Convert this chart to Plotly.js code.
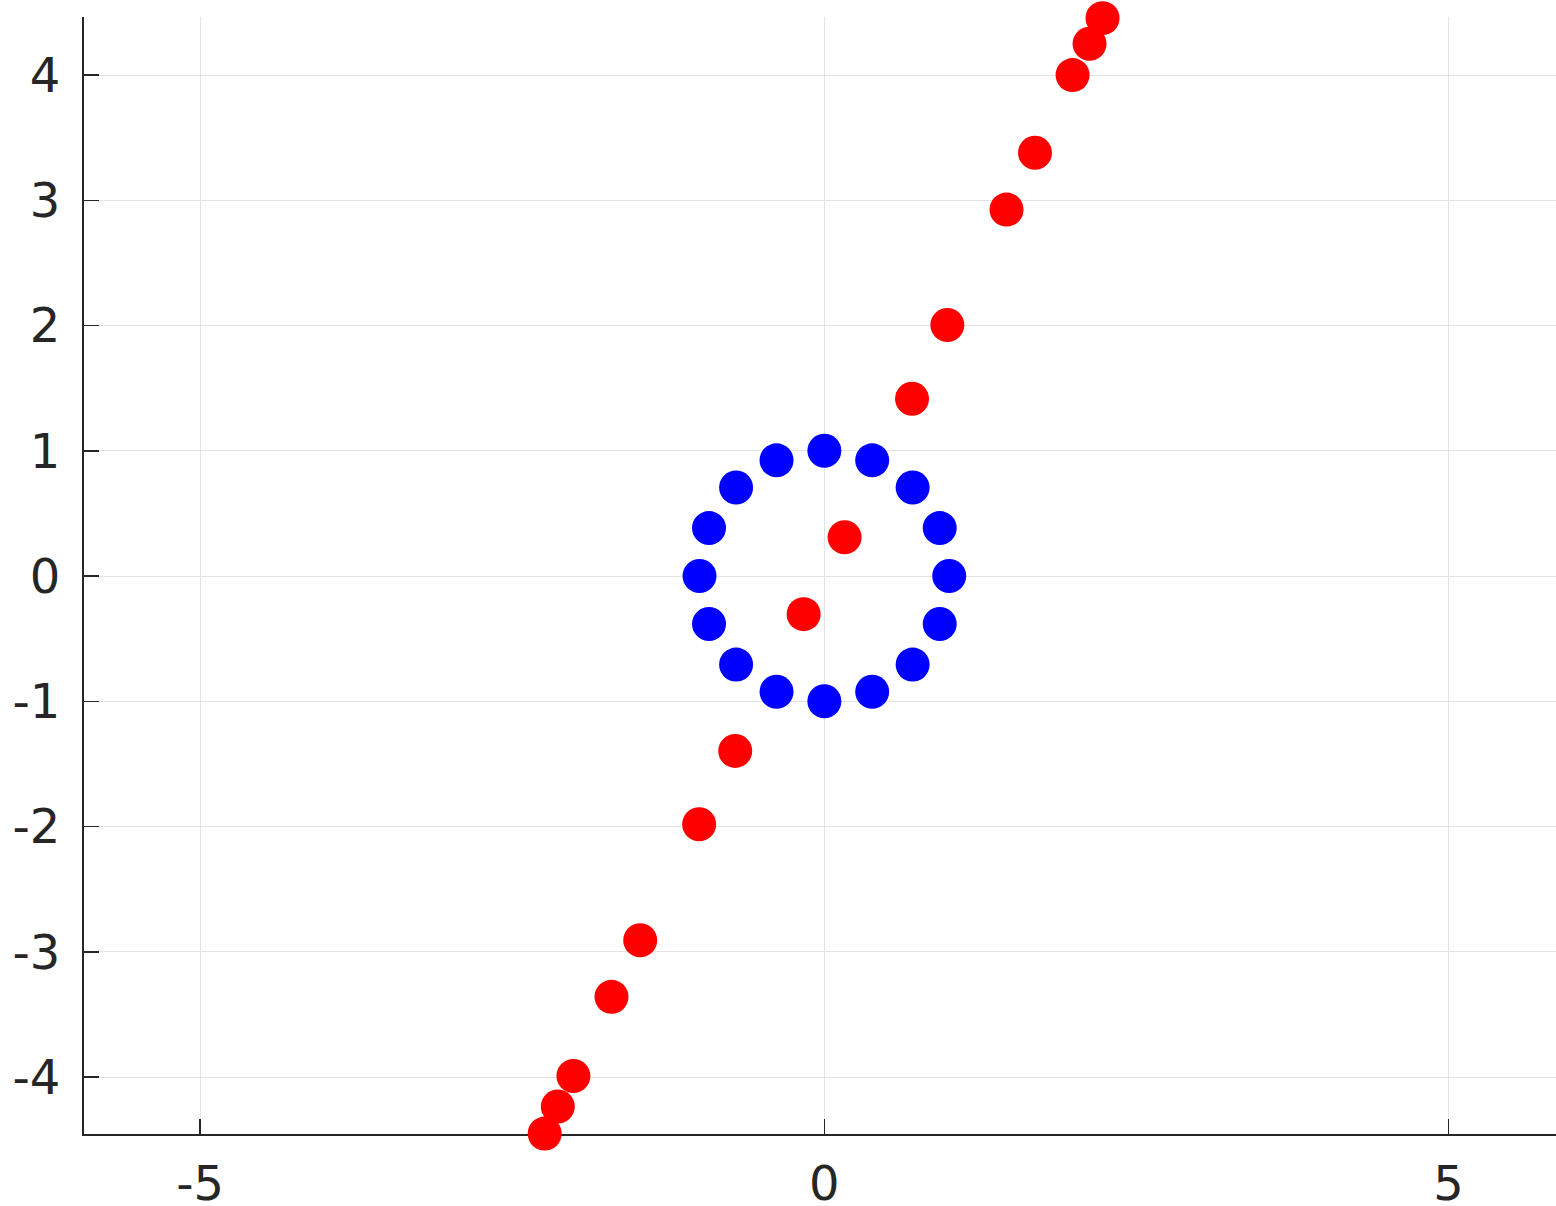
<!DOCTYPE html>
<html>
<head>
<meta charset="utf-8">
<script src="https://cdn.plot.ly/plotly-3.0.1.min.js"></script>
<style>html,body{margin:0;padding:0;background:#fff;}#chart{width:1556px;height:1206px;}</style>
</head>
<body>
<div id="chart"></div>
<script>
const redX = [-2.24, -2.135, -2.01, -1.705, -1.475, -1.003, -0.714, -0.166, 0.162, 0.702, 0.985, 1.459, 1.687, 1.988, 2.124, 2.228];
const redY = [-4.452, -4.236, -3.992, -3.36, -2.908, -1.982, -1.396, -0.304, 0.31, 1.416, 2.005, 2.926, 3.38, 4.0, 4.25, 4.455];
const blueX = [1.0, 0.924, 0.707, 0.383, 0.0, -0.383, -0.707, -0.924, -1.0, -0.924, -0.707, -0.383, 0.0, 0.383, 0.707, 0.924];
const blueY = [0.0, 0.383, 0.707, 0.924, 1.0, 0.924, 0.707, 0.383, 0.0, -0.383, -0.707, -0.924, -1.0, -0.924, -0.707, -0.383];
const xTicks = [-5, 0, 5];
const yTicks = [-4, -3, -2, -1, 0, 1, 2, 3, 4];

const axisCommon = {
  showline: true, linecolor: '#262626', linewidth: 2,
  ticks: 'inside', ticklen: 15, tickwidth: 1.5, tickcolor: '#262626',
  showgrid: true, gridcolor: '#e3e3e3', gridwidth: 1,
  zeroline: false, layer: 'below traces',
  tickfont: {family: 'DejaVu Sans', size: 48, color: '#262626'},
  tickmode: 'array'
};

const traces = [
  {x: blueX, y: blueY, mode: 'markers', type: 'scatter', cliponaxis: false,
   marker: {color: '#0000ff', size: 34, line: {width: 0}}},
  {x: redX, y: redY, mode: 'markers', type: 'scatter', cliponaxis: false,
   marker: {color: '#ff0000', size: 34, line: {width: 0}}}
];

const layout = {
  width: 1556, height: 1206,
  margin: {l: 84, r: 0, t: 17, b: 72},
  paper_bgcolor: '#ffffff', plot_bgcolor: '#ffffff',
  showlegend: false,
  xaxis: Object.assign({}, axisCommon, {range: [-5.93, 5.86], tickvals: xTicks, ticktext: xTicks.map(String), ticklabelstandoff: 6}),
  yaxis: Object.assign({}, axisCommon, {range: [-4.455, 4.464], tickvals: yTicks, ticktext: yTicks.map(String), ticklabelstandoff: 12})
};

Plotly.newPlot('chart', traces, layout, {displayModeBar: false, staticPlot: true});
</script>
</body>
</html>
